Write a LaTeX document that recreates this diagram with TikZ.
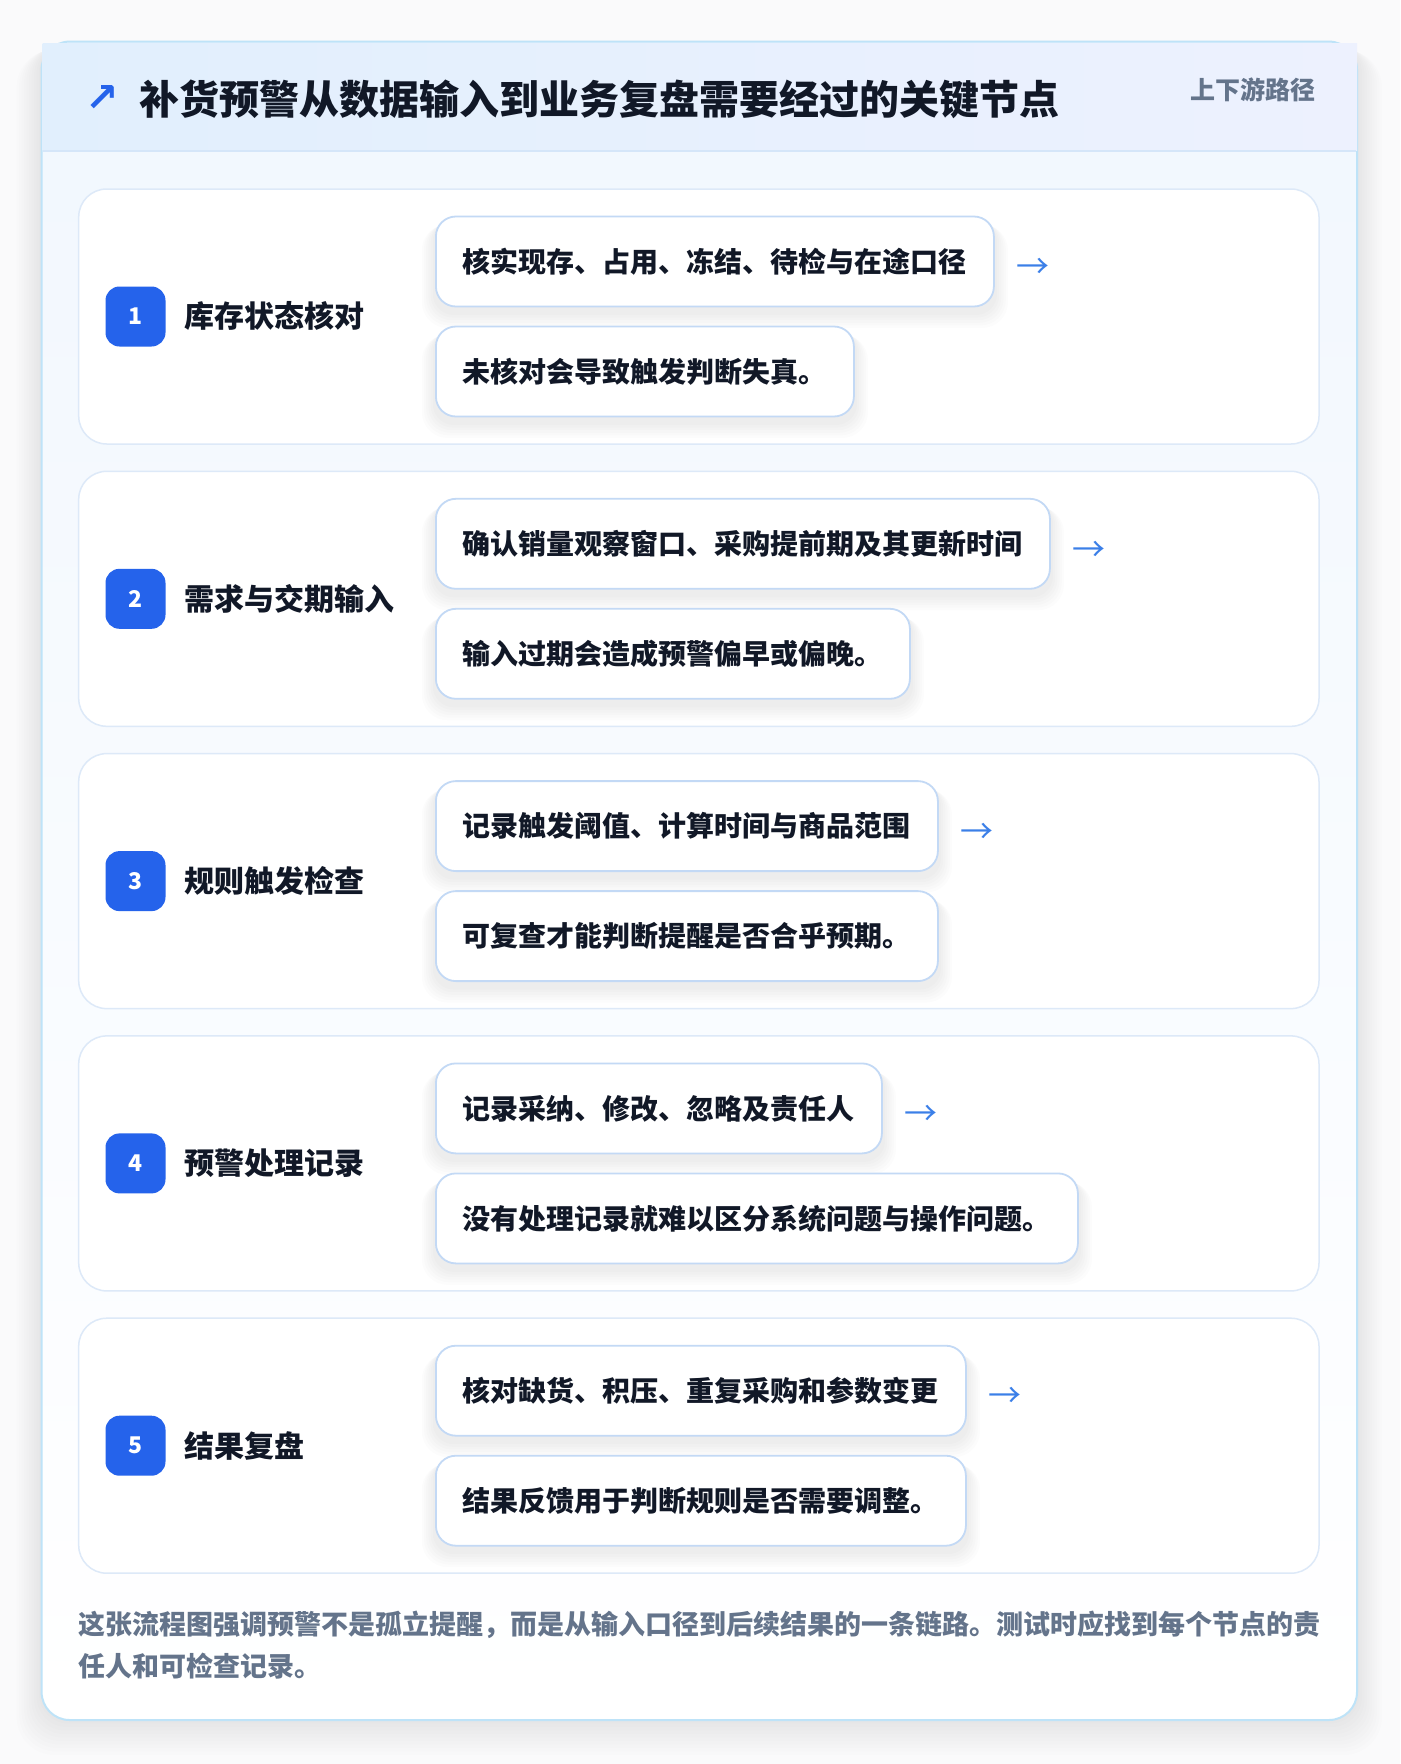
\documentclass[tikz,border=0pt]{standalone}
\usepackage{fontspec}
\setmainfont{Noto Sans CJK SC}
\newfontfamily\symfont{DejaVu Sans}
\usetikzlibrary{calc}
\definecolor{ink}{HTML}{111827}
\definecolor{muted}{HTML}{64748B}
\definecolor{badgeblue}{HTML}{2563EB}
\definecolor{arrowblue}{HTML}{3B7FE8}
\definecolor{subline}{HTML}{C3D9F5}
\definecolor{cardline}{HTML}{DDE9F8}
\definecolor{outerline}{HTML}{BEE3F8}
\definecolor{headL}{HTML}{E1EFFD}
\definecolor{headR}{HTML}{EDF1FE}
\definecolor{headline}{HTML}{D5E6F9}
\definecolor{bodytop}{HTML}{F1F7FE}
\definecolor{pagebg}{HTML}{FAFAFB}
\pgfdeclarelayer{bg}
\pgfdeclarelayer{shad}
\pgfsetlayers{bg,shad,main}
\begin{document}
\begin{tikzpicture}[x=1pt,y=-1pt,
  txt/.style={inner sep=0pt},
  subbox/.style={draw=subline, line width=1.8pt, fill=white, rounded corners=20pt,
    inner xsep=27pt, inner ysep=0pt, minimum height=90pt, text height=23.2pt, text depth=2pt,
    anchor=west, font=\fontsize{28}{34}\selectfont\bfseries, text=ink},
  badge/.style={fill=badgeblue, rounded corners=14pt, minimum width=60pt, minimum height=60pt,
    inner sep=0pt, text=white, font=\fontsize{23}{28}\selectfont\bfseries},
  steplab/.style={txt, anchor=west, text height=24.9pt, text depth=2.1pt, font=\fontsize{30}{36}\selectfont\bfseries, text=ink},
  arrowtxt/.style={txt, anchor=west, text height=26.6pt, text depth=2.2pt, font=\fontsize{33}{40}\selectfont, text=arrowblue},
  stepcard/.style={draw=cardline, fill=white, rounded corners=28pt, line width=1.5pt},
  footnote/.style={txt, anchor=west, text height=22.4pt, text depth=1.9pt, font=\fontsize{27}{34}\selectfont\bfseries, text=muted}
]
\useasboundingbox (0,0) rectangle (1400,1764);
\begin{pgfonlayer}{bg}
  \fill[pagebg] (0,0) rectangle (1400,1764);
  \foreach \k in {1,...,10} {
    \fill[black, opacity=0.008, rounded corners=28+\k] (41.6-\k*2.5, 41.6+\k*0.8) rectangle (1357+\k*2.5, 1720+\k*3.5);
  }
  \shade[top color=bodytop, bottom color=white, rounded corners=28pt] (41.6,41.6) rectangle (1357,1720);
  \draw[outerline, line width=2pt, rounded corners=28pt] (41.6,41.6) rectangle (1357,1720);
  \shade[left color=headL, right color=headR] (42.6,43) rectangle (1357,150.5);
  \draw[headline, line width=2pt] (42.6,150.5) -- (1356,150.5);
\end{pgfonlayer}
\node[txt, text=badgeblue, font=\symfont\fontsize{40}{48}\selectfont\bfseries] (icon) at (102,99) {↗};
\node[txt, anchor=west, text height=33.2pt, text depth=2.8pt, text=ink, font=\fontsize{40}{48}\selectfont\bfseries] (title) at (139,99) {补货预警从数据输入到业务复盘需要经过的关键节点};
\node[txt, anchor=east, text height=20.75pt, text depth=1.75pt, text=muted, font=\fontsize{25}{30}\selectfont\bfseries] (tag) at (1316,90) {上下游路径};
\foreach \i/\lab/\ta/\tb in {
  1/库存状态核对/核实现存、占用、冻结、待检与在途口径/未核对会导致触发判断失真。,
  2/需求与交期输入/确认销量观察窗口、采购提前期及其更新时间/输入过期会造成预警偏早或偏晚。,
  3/规则触发检查/记录触发阈值、计算时间与商品范围/可复查才能判断提醒是否合乎预期。,
  4/预警处理记录/记录采纳、修改、忽略及责任人/没有处理记录就难以区分系统问题与操作问题。,
  5/结果复盘/核对缺货、积压、重复采购和参数变更/结果反馈用于判断规则是否需要调整。} {
  \pgfmathsetmacro\T{189+(\i-1)*282.3}
  \begin{pgfonlayer}{bg}
    \draw[stepcard] (78.7,\T) rectangle (1319,\T+255);
  \end{pgfonlayer}
  \node[badge] (b\i) at (135.5,\T+127.5) {\i};
  \node[steplab] (l\i) at (184,\T+127.5) {\lab};
  \node[subbox] (a\i) at (435,\T+72.5) {\ta};
  \node[subbox] (c\i) at (435,\T+182.5) {\tb};
  \node[arrowtxt] (r\i) at ($(a\i.east)+(21,5)$) {→};
  \begin{pgfonlayer}{shad}
    \foreach \k in {1,...,6} {
      \fill[black, opacity=0.010, rounded corners=20+\k] ($(a\i.north west)+(-\k*2.2,4+\k*0.8)$) rectangle ($(a\i.south east)+(\k*2.2,5+\k*2.6)$);
      \fill[black, opacity=0.010, rounded corners=20+\k] ($(c\i.north west)+(-\k*2.2,4+\k*0.8)$) rectangle ($(c\i.south east)+(\k*2.2,5+\k*2.6)$);
    }
  \end{pgfonlayer}
}
\node[footnote] (f1) at (78.6,1624) {这张流程图强调预警不是孤立提醒，而是从输入口径到后续结果的一条链路。测试时应找到每个节点的责};
\node[footnote] (f2) at (78.6,1666) {任人和可检查记录。};
\end{tikzpicture}
\end{document}
